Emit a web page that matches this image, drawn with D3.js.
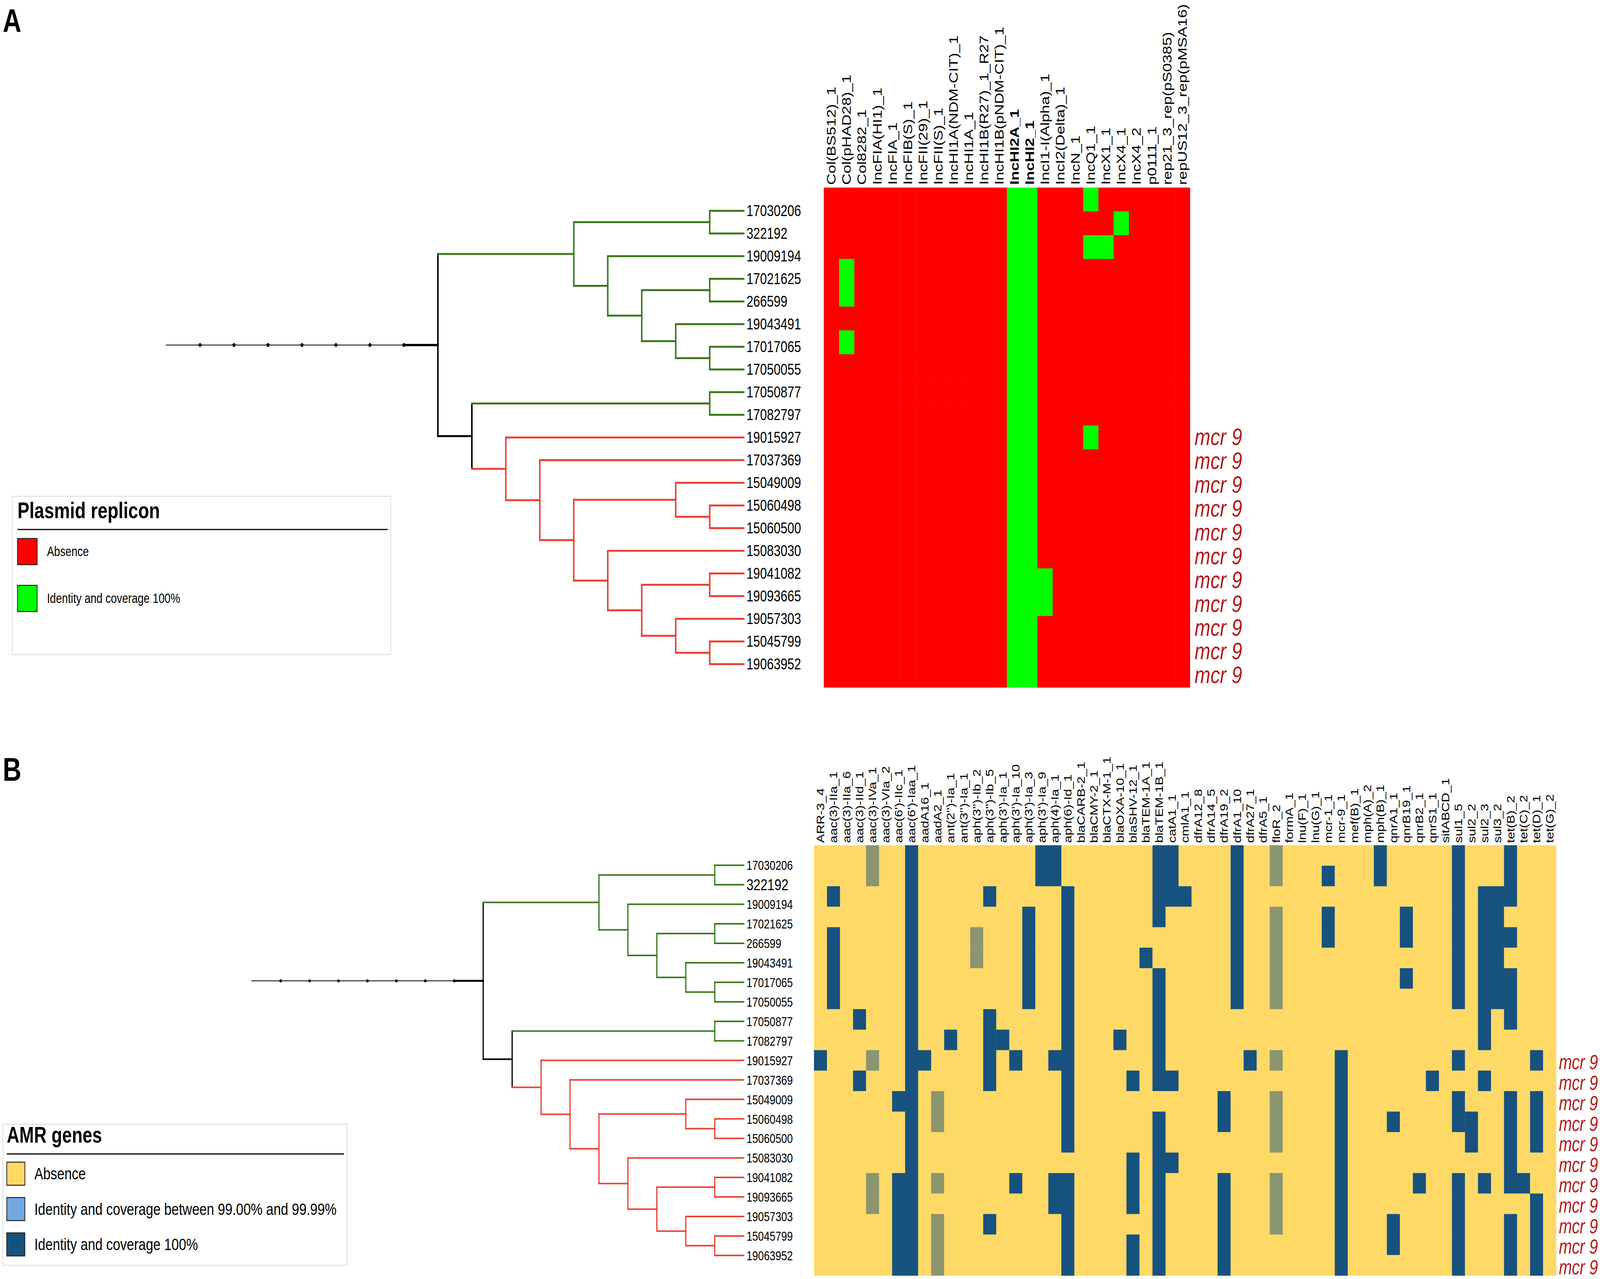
<!DOCTYPE html>
<html>
<head>
<meta charset="utf-8">
<title>Plasmid replicons and AMR genes</title>
<script src="https://d3js.org/d3.v7.min.js"></script>
<style>
  html, body { margin: 0; padding: 0; background: white; overflow: hidden; }
  #fig { display: block; width: 100vw; height: 100vh; font-family: "Liberation Sans", Arial, sans-serif; }
  .mcr { fill: #b5191b; font-style: italic; }
</style>
</head>
<body>
<svg id="fig" viewBox="0 0 5213 3273" preserveAspectRatio="none"></svg>
<script>

// isolates, top to bottom (same order as the tree leaves)
const isolates = ["17030206", "322192", "19009194", "17021625", "266599", "19043491",
    "17017065", "17050055", "17050877", "17082797", "19015927", "17037369", "15049009",
    "15060498", "15060500", "15083030", "19041082", "19093665", "19057303", "15045799", "19063952"];

const mcrIsolates = ["19015927", "17037369", "15049009", "15060498", "15060500", "15083030",
    "19041082", "19093665", "19057303", "15045799", "19063952"];
const mcrLabel = "mcr 9";

// tree topology as nested pairs
const tree = [
  [["17030206", "322192"],
   ["19009194", [["17021625", "266599"], ["19043491", ["17017065", "17050055"]]]]],
  [["17050877", "17082797"],
   ["19015927", ["17037369",
      [["15049009", ["15060498", "15060500"]],
       ["15083030", [["19041082", "19093665"], ["19057303", ["15045799", "19063952"]]]]]]]]
];

// panel A : plasmid replicons, one string per replicon, one char per isolate (0 absent, 1 found)
const replicons = ["Col(BS512)_1", "Col(pHAD28)_1", "Col8282_1", "IncFIA(HI1)_1", "IncFIA_1",
    "IncFIB(S)_1", "IncFII(29)_1", "IncFII(S)_1", "IncHI1A(NDM-CIT)_1", "IncHI1A_1",
    "IncHI1B(R27)_1_R27", "IncHI1B(pNDM-CIT)_1", "IncHI2A_1", "IncHI2_1", "IncI1-I(Alpha)_1",
    "IncI2(Delta)_1", "IncN_1", "IncQ1_1", "IncX1_1", "IncX4_1", "IncX4_2", "p0111_1",
    "rep21_3_rep(pS0385)", "repUS12_3_rep(pMSA16)"];
const boldReplicons = ["IncHI2A_1", "IncHI2_1"];
const repliconCalls = [
  "000000000000000000000", "000110100000000000000", "000000000000000000000", "000000000000000000000",
  "000000000000000000000", "000000000000000000000", "000000000000000000000", "000000000000000000000",
  "000000000000000000000", "000000000000000000000", "000000000000000000000", "000000000000000000000",
  "111111111111111111111", "111111111111111111111", "000000000000000011000", "000000000000000000000",
  "000000000000000000000", "101000000010000000000", "001000000000000000000", "010000000000000000000",
  "000000000000000000000", "000000000000000000000", "000000000000000000000", "000000000000000000000"];

// panel B : AMR genes (0 absent, 1 identity 99.00-99.99%, 2 identity 100%)
const amrGenes = ["ARR-3_4", "aac(3)-IIa_1", "aac(3)-IIa_6", "aac(3)-IId_1", "aac(3)-IVa_1",
    "aac(3)-VIa_2", "aac(6')-IIc_1", "aac(6')-Iaa_1", "aadA16_1", "aadA2_1", "ant(2'')-Ia_1",
    "ant(3'')-Ia_1", "aph(3'')-Ib_2", "aph(3'')-Ib_5", "aph(3')-Ia_1", "aph(3')-Ia_10",
    "aph(3')-Ia_3", "aph(3')-Ia_9", "aph(4)-Ia_1", "aph(6)-Id_1", "blaCARB-2_1", "blaCMY-2_1",
    "blaCTX-M-1_1", "blaOXA-10_1", "blaSHV-12_1", "blaTEM-1A_1", "blaTEM-1B_1", "catA1_1",
    "cmlA1_1", "dfrA12_8", "dfrA14_5", "dfrA19_2", "dfrA1_10", "dfrA27_1", "dfrA5_1", "floR_2",
    "formA_1", "lnu(F)_1", "lnu(G)_1", "mcr-1_1", "mcr-9_1", "mef(B)_1", "mph(A)_2", "mph(B)_1",
    "qnrA1_1", "qnrB19_1", "qnrB2_1", "qnrS1_1", "sitABCD_1", "sul1_5", "sul2_2", "sul2_3",
    "sul3_2", "tet(B)_2", "tet(C)_2", "tet(D)_1", "tet(G)_2"];
const amrCalls = [
  "000000000020000000000", "002022220000000000000", "000000000000000000000", "000000002002000000000",
  "110000000010000011000", "000000000000000000000", "000000000000200022222", "222222222222222222222",
  "000000000020000000000", "000000000000110010111", "000000000200000000000", "000000000000000000000",
  "000011000000000000000", "002000002222000000200", "000000000200000000000", "000000000020000020000",
  "000222220000000000000", "220000000000000000000", "220000000020000022000", "002222222222222022222",
  "000000000000000000000", "000000000000000000000", "000000000000000000000", "000000000200000000000",
  "000000000002000222022", "000002000000000000000", "222200222222022222222", "222000000002000200000",
  "002000000000000000000", "000000000000000000000", "000000000000000000000", "000000000000220022222",
  "222222220000000000000", "000000000020000000000", "000000000000000000000", "110111110010111011100",
  "000000000000000000000", "000000000000000000000", "000000000000000000000", "020220000000000000000",
  "000000000022222222222", "000000000000000000000", "000000000000000000000", "220000000000000000000",
  "000000000000020000220", "000220200000000000000", "000000000000000020000", "000000000002000000000",
  "000000000000000000000", "222222220020220022222", "000000000000022000000", "002222222202000020000",
  "002222220000000000000", "222020222000222220222", "000000000000000020000", "000000000020222002222",
  "000000000000000000000"];

const repliconLegend = ["Absence", "Identity and coverage 100%"];
const amrLegend = ["Absence", "Identity and coverage between 99.00% and 99.99%", "Identity and coverage 100%"];
const rulerSteps = [-7, -6, -5, -4, -3, -2, -1];

var svg = d3.select("#fig");
svg.append("rect").attr("width", 5213).attr("height", 3273).attr("fill", "white");

var green = "#3a7a1c", red = "#ec4234";

function drawPanel(p) {
    var g = svg.append("g");
    var y = d3.scaleBand(isolates, [p.top, p.bottom]);
    var x = d3.scaleBand(p.cols, [p.left, p.right]);
    var color = d3.scaleOrdinal(["0", "1", "2"], p.colors);

    // heatmap cells
    var cells = [];
    p.cols.forEach((c, j) => isolates.forEach((iso, i) => cells.push({col: c, iso: iso, v: p.calls[j][i]})));
    g.append("g").selectAll("rect").data(cells).join("rect")
        .attr("x", d => x(d.col)).attr("y", d => y(d.iso))
        .attr("width", x.bandwidth() + 0.6).attr("height", y.bandwidth() + 0.6)
        .attr("fill", d => color(d.v));

    // column headers
    g.append("g").selectAll("text").data(p.cols).join("text")
        .attr("transform", d => "translate(" + (x(d) + x.bandwidth() / 2) + "," + (p.top - p.headGap) + ") rotate(-90)")
        .attr("dominant-baseline", "central")
        .attr("font-size", p.headFont)
        .attr("font-weight", d => p.bold.includes(d) ? "bold" : "normal")
        .text(d => d);

    // tree
    var root = d3.hierarchy(tree, d => Array.isArray(d) ? d : null);
    d3.cluster().size([isolates.length - 1, 9]).separation(() => 1)(root);
    var lx = d3.scaleLinear([-8, 9], [p.treeLeft, p.treeRight]);
    var ry = d3.scaleLinear([0, isolates.length - 1],
        [y(isolates[0]) + y.bandwidth() / 2, y(isolates[isolates.length - 1]) + y.bandwidth() / 2]);
    var nodeColor = n => {
        var lv = n.leaves().map(l => l.data);
        var k = lv.filter(v => mcrIsolates.includes(v)).length;
        return k == lv.length ? red : (k == 0 ? green : "black");
    };
    var tg = g.append("g").attr("stroke-linecap", "square").attr("fill", "none");
    tg.selectAll("line.v").data(root.descendants().filter(n => n.children)).join("line")
        .attr("x1", n => lx(n.y)).attr("x2", n => lx(n.y))
        .attr("y1", n => ry(n.children[0].x)).attr("y2", n => ry(n.children[n.children.length - 1].x))
        .attr("stroke", nodeColor).attr("stroke-width", p.lineW);
    tg.selectAll("line.h").data(root.descendants().filter(n => n.parent)).join("line")
        .attr("x1", n => lx(n.parent.y)).attr("x2", n => lx(n.y))
        .attr("y1", n => ry(n.x)).attr("y2", n => ry(n.x))
        .attr("stroke", nodeColor).attr("stroke-width", p.lineW);

    // root ruler
    tg.append("line").attr("x1", lx(-8)).attr("x2", lx(-1)).attr("y1", ry(root.x)).attr("y2", ry(root.x))
        .attr("stroke", "black").attr("stroke-width", 2);
    tg.append("line").attr("x1", lx(-1)).attr("x2", lx(0)).attr("y1", ry(root.x)).attr("y2", ry(root.x))
        .attr("stroke", "black").attr("stroke-width", p.lineW + 1);
    g.append("g").selectAll("circle").data(rulerSteps).join("circle")
        .attr("cx", d => lx(d)).attr("cy", ry(root.x)).attr("r", p.dot).attr("fill", "black");

    // leaf labels
    g.append("g").selectAll("text").data(root.leaves()).join("text")
        .attr("x", p.labelX).attr("y", n => ry(n.x))
        .attr("dominant-baseline", "central")
        .attr("font-size", n => p.bigLeaves.includes(n.data) ? p.bigLeafFont : p.leafFont)
        .text(n => n.data);

    // mcr 9 labels
    g.append("g").selectAll("text").data(isolates.filter(d => mcrIsolates.includes(d))).join("text")
        .attr("class", "mcr")
        .attr("x", p.mcrX).attr("y", d => y(d) + y.bandwidth() / 2)
        .attr("dy", p.mcrDy)
        .attr("font-size", p.mcrFont)
        .text(mcrLabel);

    // panel letter
    svg.append("text").attr("x", 9).attr("y", p.letterY).attr("font-size", 84)
        .attr("font-weight", "bold").text(p.letter);
}

function drawLegend(l) {
    var g = svg.append("g");
    g.append("rect").attr("x", l.x).attr("y", l.y).attr("width", l.w).attr("height", l.h)
        .attr("fill", "white").attr("stroke", "#e2e2e2").attr("stroke-width", 3);
    g.append("text").attr("x", l.titleX).attr("y", l.titleY).attr("font-size", l.titleFont)
        .attr("font-weight", "bold").text(l.title);
    g.append("line").attr("x1", l.titleX).attr("x2", l.x + l.w - 10)
        .attr("y1", l.ruleY).attr("y2", l.ruleY).attr("stroke", "black").attr("stroke-width", 3);
    var items = g.selectAll("g.item").data(l.labels).join("g")
        .attr("transform", (d, i) => "translate(" + l.swX + "," + (l.itemY + i * l.step) + ")");
    items.append("rect").attr("width", l.sw).attr("height", l.sh)
        .attr("fill", (d, i) => l.colors[i]).attr("stroke", "#222").attr("stroke-width", 2.5);
    items.append("text").attr("x", l.textDx).attr("y", l.sh / 2).attr("dominant-baseline", "central")
        .attr("font-size", l.font).text(d => d);
}

drawPanel({
    letter: "A", letterY: 82,
    cols: replicons, calls: repliconCalls, bold: boldReplicons,
    colors: ["#ff0000", "#00ff00", "#00ff00"],
    top: 480, bottom: 1759, left: 2684, right: 3877,
    headGap: 7, headFont: 40,
    treeLeft: 541, treeRight: 2423, lineW: 5, dot: 5,
    labelX: 2432, leafFont: 40, bigLeaves: [], bigLeafFont: 40,
    mcrX: 3892, mcrFont: 62, mcrDy: "0.32em"
});

drawPanel({
    letter: "B", letterY: 1998,
    cols: amrGenes, calls: amrCalls, bold: [],
    colors: ["#fed966", "#8b9570", "#17527e"],
    top: 2163, bottom: 3264, left: 2652, right: 5070,
    headGap: 6, headFont: 34,
    treeLeft: 820, treeRight: 2423, lineW: 4, dot: 4,
    labelX: 2432, leafFont: 34, bigLeaves: ["322192"], bigLeafFont: 41,
    mcrX: 5079, mcrFont: 51, mcrDy: "0.45em"
});

drawLegend({
    x: 40, y: 1270, w: 1233, h: 405,
    title: "Plasmid replicon", titleX: 57, titleY: 1326, titleFont: 58, ruleY: 1355,
    labels: repliconLegend, colors: ["#ff0000", "#00ff00"],
    swX: 57, itemY: 1378, step: 120, sw: 64, sh: 67, textDx: 96, font: 35
});

drawLegend({
    x: 9, y: 2877, w: 1122, h: 361,
    title: "AMR genes", titleX: 22, titleY: 2924, titleFont: 57, ruleY: 2953,
    labels: amrLegend, colors: ["#fed966", "#6fa8dc", "#17527e"],
    swX: 22, itemY: 2974, step: 90.5, sw: 59, sh: 59, textDx: 90, font: 43
});

</script>
</body>
</html>
